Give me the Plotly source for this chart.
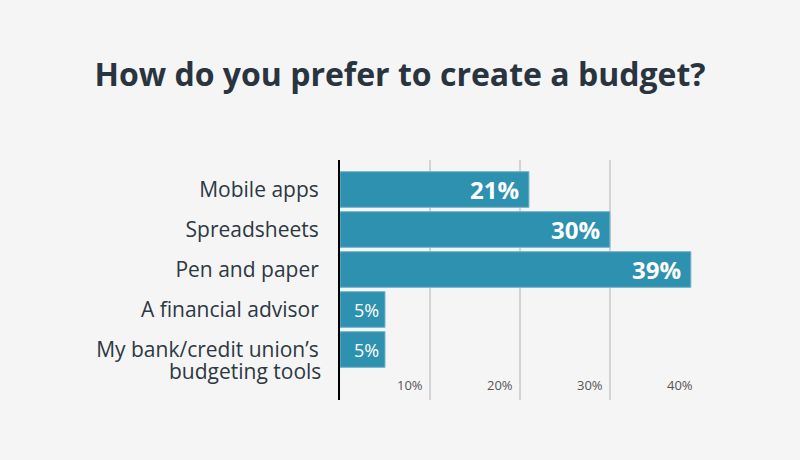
import plotly.graph_objects as go

categories = ["Mobile apps", "Spreadsheets", "Pen and paper", "A financial advisor",
              "My bank/credit union’s budgeting tools"]
tick_first_lines = ["Mobile apps", "Spreadsheets", "Pen and paper", "A financial advisor",
                    "My bank/credit union’s"]
second_line = "budgeting tools"
values = [21, 30, 39, 5, 5]
value_labels = ["21%", "30%", "39%", "5%", "5%"]
x_ticks = [10, 20, 30, 40]
x_tick_labels = ["10%", "20%", "30%", "40%"]

BAR = "#2e91b0"
TEXT = "#2d3843"
FONT = "Open Sans"

fig = go.Figure()
fig.add_trace(go.Bar(
    y=categories, x=values, orientation="h",
    marker=dict(color=BAR, line=dict(color="#6fb2c7", width=1)),
    hoverinfo="skip",
))

annotations = []
for cat, v, lab in zip(categories, values, value_labels):
    big = v >= 10
    annotations.append(dict(
        x=v, y=cat, xref="x", yref="y", text=lab, showarrow=False,
        xanchor="right", yanchor="middle", xshift=-8 if big else -4,
        font=dict(family=FONT, size=24 if big else 18, color="white",
                  weight="bold" if big else "normal"),
    ))
annotations.append(dict(
    x=0, y=categories[-1], xref="paper", yref="y", text=second_line, showarrow=False,
    xanchor="right", yanchor="middle", xshift=-17, yshift=-21,
    font=dict(family=FONT, size=21, color=TEXT),
))
for t, lab in zip(x_ticks, x_tick_labels):
    annotations.append(dict(
        x=t, y=0, xref="x", yref="paper", text=lab, showarrow=False,
        xanchor="right", yanchor="middle", xshift=-5, yshift=15,
        font=dict(family=FONT, size=13, color="#555555"),
    ))

fig.update_layout(
    width=800, height=460,
    paper_bgcolor="#f5f5f5", plot_bgcolor="#f5f5f5",
    margin=dict(l=340, r=100, t=160, b=60),
    showlegend=False,
    bargap=0.11,
    title=dict(text="How do you prefer to create a budget?", xref="container", x=0.5,
               xanchor="center", yref="container", y=1 - 75 / 460, yanchor="middle",
               font=dict(family=FONT, size=32, color="#29343f", weight="bold")),
    xaxis=dict(range=[0, 40.02], tickvals=x_ticks, showticklabels=False,
               showgrid=True, gridcolor="#d3d3d3", gridwidth=2,
               zeroline=False, showline=False, ticks=""),
    yaxis=dict(categoryorder="array", categoryarray=categories,
               tickvals=categories, ticktext=tick_first_lines,
               range=[5.2625, -0.7375], showgrid=False, zeroline=False,
               showline=True, linecolor="black", linewidth=2, ticks="",
               ticklabelstandoff=15,
               tickfont=dict(family=FONT, size=21, color=TEXT)),
    annotations=annotations,
)

fig.write_html("out.html", config={"displayModeBar": False},
               post_script="document.body.style.margin='0';")
